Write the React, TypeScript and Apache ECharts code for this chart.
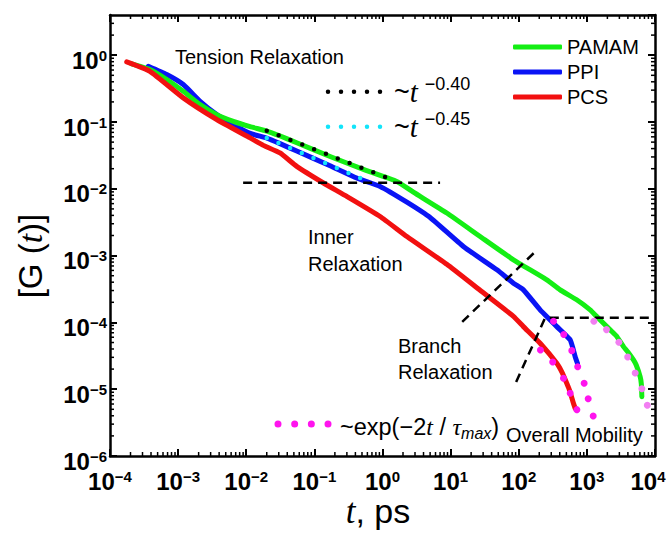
import React, { useEffect, useRef } from 'react';
import * as echarts from 'echarts';

const FONT = '"Liberation Sans", Arial, sans-serif';
const SERIF = '"Liberation Serif", "Times New Roman", serif';

// ---- data: [t (ps), G(t)] ----
const PAMAM: [number, number][] = [
  [2.08e-4, 0.743], [3.86e-4, 0.611], [6.81e-4, 0.433], [1.19e-3, 0.288], [2.1e-3, 0.182],
  [3.69e-3, 0.129], [6.47e-3, 0.102], [1.14e-2, 0.0851], [2.0e-2, 0.0733], [3.16e-2, 0.0617],
  [5.51e-2, 0.049], [0.17, 0.0305], [0.525, 0.0195], [1.62, 0.0129], [2.84, 0.00891], [8.79, 0.00434],
  [27.1, 0.00193], [83.6, 8.65e-4], [258, 4.34e-4], [400, 3.1e-4], [700, 2.2e-4],
  [1117, 1.54e-4], [1400, 1.22e-4], [2198, 7.73e-5], [2700, 6.3e-5], [3444, 4.34e-5],
  [4000, 3.6e-5], [4831, 2.74e-5], [5300, 2.3e-5], [6053, 1.54e-5], [6300, 1.2e-5], [6412, 7.73e-6],
];
const PPI: [number, number][] = [
  [3.65e-4, 0.684], [6.81e-4, 0.514], [1.19e-3, 0.364], [2.1e-3, 0.204], [3.69e-3, 0.129],
  [6.47e-3, 0.0914], [1.14e-2, 0.0675], [2.0e-2, 0.0575], [3.13e-2, 0.0475], [5.51e-2, 0.0367],
  [0.17, 0.0222], [0.419, 0.01452], [0.923, 0.01086], [2.28, 0.00631], [5.0, 0.00372],
  [15.4, 1.368e-3], [47.8, 6.12e-4], [83.6, 3.87e-4], [117, 3.07e-4], [206, 1.54e-4],
  [289, 1.09e-4], [362, 8.65e-5], [450, 7.0e-5], [569, 5.47e-5], [620, 4.2e-5],
  [673, 3.07e-5], [728, 2.44e-5],
];
const PCS: [number, number][] = [
  [1.76e-4, 0.796], [3.86e-4, 0.575], [1.19e-3, 0.23], [3.69e-3, 0.109], [1.14e-2, 0.0578],
  [1.78e-2, 0.0447], [3.13e-2, 0.0344], [5.51e-2, 0.0217], [0.136, 0.01222], [0.299, 0.00769],
  [0.923, 0.00385], [2.28, 0.00193], [8.79, 7.41e-4], [27.1, 3.02e-4], [83.6, 1.23e-4],
  [117, 8.65e-5], [206, 4.88e-5], [362, 2.44e-5], [430, 1.8e-5], [508, 1.22e-5],
  [560, 9.5e-6], [635, 6.15e-6], [673, 5.16e-6],
];

// power-law fits (end points)
const FIT_040: [number, number][] = [[0.02, 0.0743], [1.091, 0.01503]];
const FIT_045: [number, number][] = [[0.02, 0.0578], [0.697, 0.01222]];

// exp(-2t/tau_max) points
const EXP_PPI: [number, number][] = [
  [324, 1.042e-4], [458, 6.61e-5], [601, 3.78e-5], [733, 2.17e-5], [912, 1.225e-5], [1045, 7.21e-6], [1239, 3.96e-6],
];
const EXP_PCS: [number, number][] = [
  [208, 3.87e-5], [315, 2.56e-5], [453, 1.455e-5], [569, 8.69e-6], [713, 4.94e-6],
];
const EXP_PAMAM: [number, number][] = [
  [1268, 1.042e-4], [1941, 7.8e-5], [2951, 5.05e-5], [3972, 3.04e-5], [5117, 1.75e-5], [6412, 1.016e-5], [7709, 5.74e-6],
];

// dashed guide lines
const GUIDE_H: [number, number][] = [[0.009, 0.0123], [7.0, 0.0123]];
const GUIDE_D1: [number, number][] = [[14.8, 1.02e-4], [174, 1.14e-3]];
const GUIDE_D2: [number, number][] = [[91.6, 1.285e-5], [244, 1.17e-4], [9100, 1.17e-4]];

// axes
const X_MIN = 1e-4, X_MAX = 1e4, Y_MIN = 1e-6, Y_MAX = 4;
const X_DECADES = [-4, -3, -2, -1, 0, 1, 2, 3];
const Y_DECADES = [-6, -5, -4, -3, -2, -1, 0];
const MINOR_MULTS = [2, 3, 4, 5, 6, 7, 8, 9];

const GRID = { left: 110, top: 15, width: 545, height: 441 };

const X_MINOR = X_DECADES.flatMap((d) => MINOR_MULTS.map((m) => m * Math.pow(10, d)));
const Y_MINOR = Y_DECADES.flatMap((d) => MINOR_MULTS.map((m) => m * Math.pow(10, d))).filter((v) => v < Y_MAX);

const expLabel = (v: number) => {
  const l = Math.log10(v);
  const e = Math.round(l);
  if (Math.abs(l - e) > 1e-6) return '';
  const ex = e < 0 ? '\u2212' + -e : String(e);
  // the right-most label is nudged a little to the left so it stays on the page
  if (Math.abs(v - X_MAX) < 1e-6) return `{b|10}{e|${ex}}`;
  return `{b|10}{s|${ex}}`;
};
const labelRich = {
  b: { fontSize: 24, fontWeight: 'bold', fontFamily: FONT, color: '#000', lineHeight: 22, verticalAlign: 'bottom' },
  s: { fontSize: 15, fontWeight: 'bold', fontFamily: FONT, color: '#000', lineHeight: 34, verticalAlign: 'middle' },
  e: { fontSize: 15, fontWeight: 'bold', fontFamily: FONT, color: '#000', lineHeight: 34, verticalAlign: 'middle', padding: [0, 14, 0, 0] },
};

// dotted line dash so that the dots land on both ends
const pxPerDecX = GRID.width / Math.log10(X_MAX / X_MIN);
const pxPerDecY = GRID.height / Math.log10(Y_MAX / Y_MIN);
const dotGap = (pts: [number, number][], n: number) => {
  const dx = Math.log10(pts[1][0] / pts[0][0]) * pxPerDecX;
  const dy = Math.log10(pts[1][1] / pts[0][1]) * pxPerDecY;
  return Math.hypot(dx, dy) / n;
};

const axisCommon = {
  type: 'log' as const,
  logBase: 10,
  splitLine: { show: false },
  axisLine: { show: true, onZero: false, lineStyle: { color: '#000', width: 2.5 } },
  axisTick: { show: true, inside: true, length: 7, lineStyle: { color: '#000', width: 2 } },
};

export default function App() {
  const ref = useRef<HTMLDivElement>(null);
  useEffect(() => {
    if (!ref.current) return;
    const chart = echarts.init(ref.current, null, { renderer: 'svg' });

    const curve = (name: string, data: [number, number][], color: string) => ({
      type: 'line',
      name,
      data,
      symbol: 'none',
      showSymbol: false,
      smooth: 0.15,
      color,
      itemStyle: { color },
      lineStyle: { width: 5, color, cap: 'round', join: 'round' },
      z: 2,
    });

    const option: any = {
      animation: false,
      backgroundColor: '#fff',
      textStyle: { fontFamily: FONT },
      grid: { ...GRID, containLabel: false, outerBoundsMode: 'none' },
      legend: {
        data: ['PAMAM', 'PPI', 'PCS'],
        orient: 'vertical',
        left: 513,
        top: 37,
        padding: 0,
        itemWidth: 49,
        itemHeight: 5,
        itemGap: 5,
        icon: 'roundRect',
        selectedMode: false,
        textStyle: { fontSize: 20, fontFamily: FONT, color: '#000', lineHeight: 20 },
      },
      xAxis: [
        {
          ...axisCommon,
          min: X_MIN,
          max: X_MAX,
          position: 'bottom',
          axisLabel: { margin: 3, formatter: expLabel, rich: labelRich },
        },
        {
          ...axisCommon,
          min: X_MIN,
          max: X_MAX,
          position: 'top',
          axisLabel: { show: false },
        },
      ],
      yAxis: [
        {
          ...axisCommon,
          min: Y_MIN,
          max: Y_MAX,
          position: 'left',
          axisLabel: { margin: 3, formatter: expLabel, rich: labelRich, showMaxLabel: false },
        },
        {
          ...axisCommon,
          min: Y_MIN,
          max: Y_MAX,
          position: 'right',
          axisLabel: { show: false },
        },
      ],
      series: [
        curve('PPI', PPI, '#0a14f5'),
        curve('PAMAM', PAMAM, '#14ee14'),
        curve('PCS', PCS, '#f21010'),
        {
          type: 'line', name: 'fit -0.40', data: FIT_040, symbol: 'none', z: 4,
          lineStyle: { width: 4.5, color: '#000', type: [0, dotGap(FIT_040, 10)], cap: 'round' },
        },
        {
          type: 'line', name: 'fit -0.45', data: FIT_045, symbol: 'none', z: 4,
          lineStyle: { width: 4.5, color: '#12e4fa', type: [0, dotGap(FIT_045, 9)], cap: 'round' },
        },
        ...[GUIDE_H, GUIDE_D1, GUIDE_D2].map((d, i) => ({
          type: 'line', name: 'guide' + i, data: d, symbol: 'none', z: 3,
          lineStyle: { width: 2.5, color: '#000', type: [9, 6] },
        })),
        { type: 'scatter', name: 'exp PCS', data: EXP_PCS, symbolSize: 7, itemStyle: { color: '#ff14ee', opacity: 1 }, z: 5 },
        { type: 'scatter', name: 'exp PPI', data: EXP_PPI, symbolSize: 7, itemStyle: { color: '#ff14ee', opacity: 1 }, z: 5 },
        { type: 'scatter', name: 'exp PAMAM', data: EXP_PAMAM, symbolSize: 7, itemStyle: { color: '#f27ef2', opacity: 1 }, z: 5 },
        {
          type: 'custom', name: 'xminor', data: X_MINOR.map((v) => [v, 1]), silent: true, clip: false, z: 6,
          renderItem: (params: any, api: any) => {
            const cs = params.coordSys;
            const x = api.coord([api.value(0), 1])[0];
            const b = cs.y + cs.height, t = cs.y;
            const st = { stroke: '#000', lineWidth: 1.5 };
            return {
              type: 'group',
              children: [
                { type: 'line', shape: { x1: x, y1: b, x2: x, y2: b - 4 }, style: st },
                { type: 'line', shape: { x1: x, y1: t, x2: x, y2: t + 4 }, style: st },
              ],
            };
          },
        },
        {
          type: 'custom', name: 'yminor', data: Y_MINOR.map((v) => [1, v]), silent: true, clip: false, z: 6,
          renderItem: (params: any, api: any) => {
            const cs = params.coordSys;
            const y = api.coord([1, api.value(1)])[1];
            const l = cs.x, r = cs.x + cs.width;
            const st = { stroke: '#000', lineWidth: 1.5 };
            return {
              type: 'group',
              children: [
                { type: 'line', shape: { x1: l, y1: y, x2: l + 4, y2: y }, style: st },
                { type: 'line', shape: { x1: r, y1: y, x2: r - 4, y2: y }, style: st },
              ],
            };
          },
        },
      ],
      graphic: [
        { type: 'text', x: 175, y: 57, style: { text: 'Tension Relaxation', fontSize: 20, fontFamily: FONT, fill: '#000', align: 'left', verticalAlign: 'middle' } },
        { type: 'text', x: 308, y: 237, style: { text: 'Inner', fontSize: 20, fontFamily: FONT, fill: '#000', align: 'left', verticalAlign: 'middle' } },
        { type: 'text', x: 308, y: 264, style: { text: 'Relaxation', fontSize: 20, fontFamily: FONT, fill: '#000', align: 'left', verticalAlign: 'middle' } },
        { type: 'text', x: 398, y: 346, style: { text: 'Branch', fontSize: 20, fontFamily: FONT, fill: '#000', align: 'left', verticalAlign: 'middle' } },
        { type: 'text', x: 398, y: 372, style: { text: 'Relaxation', fontSize: 20, fontFamily: FONT, fill: '#000', align: 'left', verticalAlign: 'middle' } },
        { type: 'text', x: 506, y: 435, style: { text: 'Overall Mobility', fontSize: 20, fontFamily: FONT, fill: '#000', align: 'left', verticalAlign: 'middle' } },
        // fit legends
        { type: 'line', shape: { x1: 328, y1: 91.7, x2: 380.5, y2: 91.7 }, style: { stroke: '#000', lineWidth: 4.5, lineDash: [0, 13], lineCap: 'round' } },
        { type: 'line', shape: { x1: 328, y1: 126.7, x2: 380.5, y2: 126.7 }, style: { stroke: '#12e4fa', lineWidth: 4.5, lineDash: [0, 13], lineCap: 'round' } },
        {
          type: 'text', x: 394, y: 92,
          style: {
            text: '{m|~}{t|t}{s|\u22120.40}', align: 'left', verticalAlign: 'middle',
            rich: {
              m: { fontSize: 27, fontFamily: FONT, fill: '#000', lineHeight: 34 },
              t: { fontSize: 29, fontFamily: SERIF, fontStyle: 'italic', fill: '#000', lineHeight: 34 },
              s: { fontSize: 18, fontFamily: FONT, fill: '#000', lineHeight: 18, verticalAlign: 'top', padding: [0, 0, 0, 7] },
            },
          },
        },
        {
          type: 'text', x: 394, y: 127,
          style: {
            text: '{m|~}{t|t}{s|\u22120.45}', align: 'left', verticalAlign: 'middle',
            rich: {
              m: { fontSize: 27, fontFamily: FONT, fill: '#000', lineHeight: 34 },
              t: { fontSize: 29, fontFamily: SERIF, fontStyle: 'italic', fill: '#000', lineHeight: 34 },
              s: { fontSize: 18, fontFamily: FONT, fill: '#000', lineHeight: 18, verticalAlign: 'top', padding: [0, 0, 0, 7] },
            },
          },
        },
        { type: 'line', shape: { x1: 278, y1: 424, x2: 328.5, y2: 424 }, style: { stroke: '#ff14ee', lineWidth: 7, lineDash: [0, 16.67], lineCap: 'round' } },
        {
          type: 'text', x: 340, y: 427,
          style: {
            text: '{a|~exp(\u22122}{t|t}{a| / }{u|\u03c4}{b|max}{a|)}', align: 'left', verticalAlign: 'middle',
            rich: {
              a: { fontSize: 23.5, fontFamily: FONT, fill: '#000', lineHeight: 28 },
              t: { fontSize: 24, fontFamily: SERIF, fontStyle: 'italic', fill: '#000', lineHeight: 28 },
              u: { fontSize: 24, fontFamily: SERIF, fontStyle: 'italic', fill: '#000', lineHeight: 28 },
              b: { fontSize: 16, fontFamily: FONT, fontStyle: 'italic', fill: '#000', lineHeight: 14, verticalAlign: 'bottom' },
            },
          },
        },
        // axis titles
        {
          type: 'text', x: 378, y: 511,
          style: {
            text: '{t|t}{a|, ps}', align: 'center', verticalAlign: 'middle',
            rich: {
              t: { fontSize: 35, fontFamily: SERIF, fontStyle: 'italic', fill: '#000', lineHeight: 40 },
              a: { fontSize: 34, fontFamily: FONT, fill: '#000', lineHeight: 40 },
            },
          },
        },
        {
          type: 'text', x: 30, y: 256, rotation: Math.PI / 2,
          style: {
            text: '{a|[G (}{t|t}{a|)]}', align: 'center', verticalAlign: 'middle',
            rich: {
              a: { fontSize: 33, fontFamily: FONT, fill: '#000', lineHeight: 40 },
              t: { fontSize: 34, fontFamily: SERIF, fontStyle: 'italic', fill: '#000', lineHeight: 40 },
            },
          },
        },
      ],
    };

    chart.setOption(option);
    return () => chart.dispose();
  }, []);

  return (
    <div
      ref={ref}
      style={{ position: 'absolute', left: 0, top: 0, width: 667, height: 535, background: '#fff' }}
    />
  );
}
